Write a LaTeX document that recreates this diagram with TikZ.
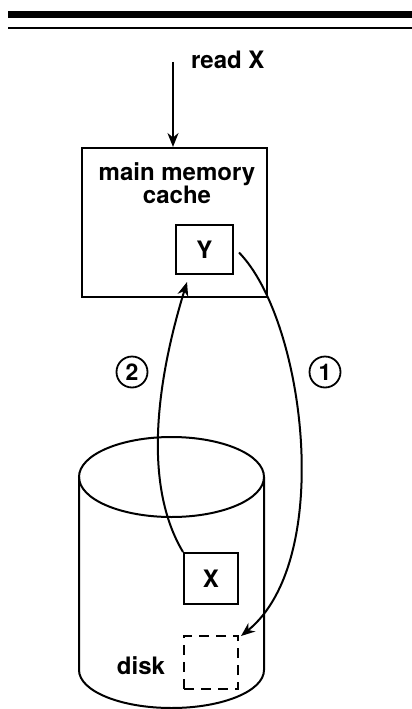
\documentclass[tikz,border=0pt]{standalone}
\usepackage{fontspec}
\setmainfont{TeX Gyre Heros}
\usetikzlibrary{arrows.meta,calc}
\begin{document}
\begin{tikzpicture}[x=1pt,y=-1pt, line width=2pt,
  lbl/.style={font=\fontsize{24}{23}\selectfont\bfseries, inner sep=0pt},
  sbox/.style={draw, inner sep=0pt, font=\fontsize{24}{23}\selectfont\bfseries},
  num/.style={draw, circle, minimum size=31pt, inner sep=0pt, line width=1.8pt, font=\fontsize{23}{23}\selectfont\bfseries},
  arr/.style={-{Stealth[length=14pt,width=11pt]}}]
\useasboundingbox (0,0) rectangle (412,709);
% header rules
\fill (8,11) rectangle (412,18);
\fill (8,27) rectangle (412,29.5);
% read X
\node[lbl, anchor=west] (read) at (190,60) {read X};
\coordinate (rs) at (173,62);
% cache box
\node[draw, minimum width=185pt, minimum height=149pt, inner sep=0pt] (cache) at (174.5,222.5) {};
\node[lbl, align=center] (cachelbl) at (177,183.5) {main memory\\cache};
\draw[arr] (rs) -- (rs |- cache.north);
\node[sbox, minimum width=57pt, minimum height=49pt] (Y) at (204.5,249.5) {Y};
% disk cylinder
\draw (171.5,477) ellipse [x radius=92.5pt, y radius=40pt];
\draw (79,477) -- (79,670) arc[start angle=180, end angle=360, x radius=92.5pt, y radius=38pt] -- (264,477);
\node[sbox, minimum width=54pt, minimum height=51pt] (X) at (211,578.5) {X};
\node[sbox, dash pattern=on 10pt off 7pt, minimum width=54pt, minimum height=53pt] (D) at (211,662.5) {};
\node[lbl] (disk) at (141,666) {disk};
% arrows
\draw[arr] (X.north west) .. controls (140,480) and (160,370) .. ($(Y.south west)+(12,7)$);
\draw[arr] ($(Y.east)+(5,3)$) .. controls (305,320) and (335,560) .. ($(D.north east)+(2,1)$);
\node[num] (n2) at (132,372) {2};
\node[num] (n1) at (325,372) {1};
\end{tikzpicture}
\end{document}
